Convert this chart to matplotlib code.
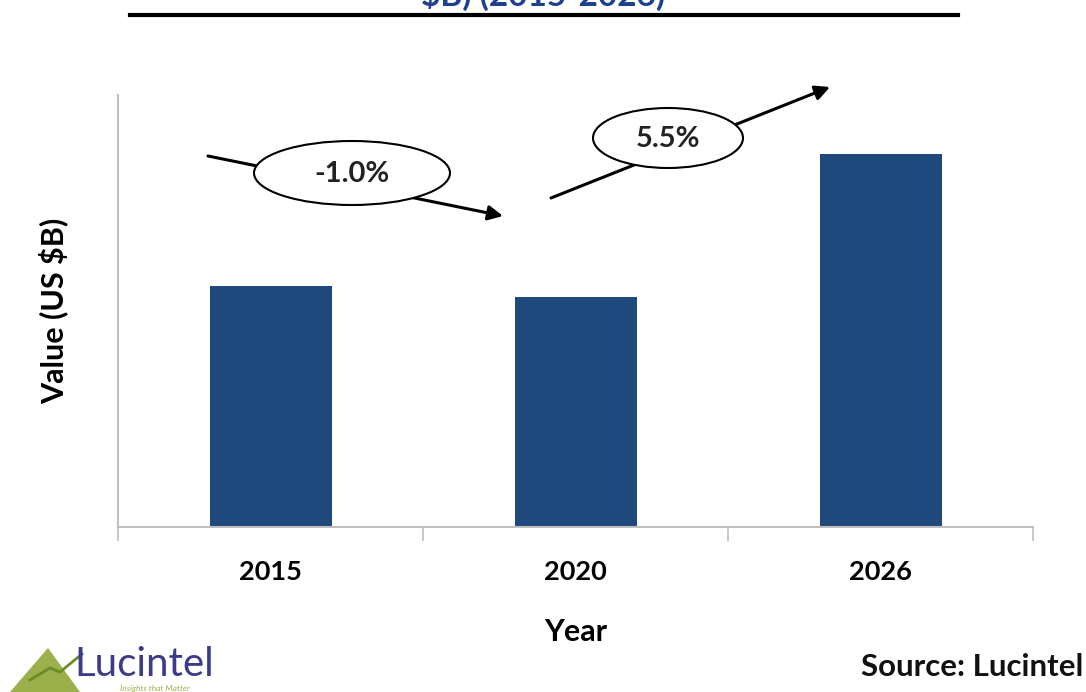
import matplotlib.pyplot as plt
from matplotlib.patches import Ellipse, Polygon

# ====== DATA ======
years = ["2015", "2020", "2026"]
values = [2.41, 2.30, 3.73]   # relative bar heights (US $B)
growth_labels = ["-1.0%", "5.5%"]
# ==================

W, H = 1086, 692
BAR_COLOR = "#1F497D"
AXIS_GREY = "#BFBFBF"
FONT = "Lato"

def fx(px):
    return px / W

def fy(py):
    return 1 - py / H

fig = plt.figure(figsize=(W / 100, H / 100), dpi=100)
ax = fig.add_axes([fx(118), fy(527), fx(1033) - fx(118), fy(95) - fy(527)])

x = range(len(years))
ax.bar(x, values, width=0.4, color=BAR_COLOR)
ax.set_xlim(-0.5, len(years) - 0.5)
ax.set_ylim(0, 4.32)

ax.set_xticks([i - 0.5 for i in range(len(years) + 1)])
ax.set_xticklabels([])
ax.set_xticks(list(x), minor=True)
ax.set_xticklabels(years, minor=True, fontsize=19.5, fontweight="bold", family=FONT)
ax.tick_params(axis="x", which="major", length=10, color=AXIS_GREY, width=1.2)
ax.tick_params(axis="x", which="minor", length=0, pad=24)
ax.set_yticks([])

for side in ["top", "right"]:
    ax.spines[side].set_visible(False)
for side in ["left", "bottom"]:
    ax.spines[side].set_color(AXIS_GREY)
    ax.spines[side].set_linewidth(1.5)

ax.set_xlabel("Year", fontsize=22, fontweight="bold", family=FONT, labelpad=24)
ax.set_ylabel("Value (US $B)", fontsize=22, fontweight="bold", family=FONT, labelpad=36)

# cut-off title and rule at the top
fig.text(0.5, fy(-5), "$B) (2015-2026)", ha="center", va="center",
         fontsize=24, fontweight="bold", color="#1F3F8F", family=FONT)
fig.add_artist(plt.Line2D([fx(130), fx(958)], [fy(15), fy(15)], color="black", lw=3))

# growth arrows with ellipse labels
arrows = [((208, 156), (503, 216)), ((551, 198), (830, 87))]
ellipses = [((352, 173), 196, 64), ((668, 138), 150, 60)]
for (start, end), (center, ew, eh), label in zip(arrows, ellipses, growth_labels):
    ax.annotate("", xy=(fx(end[0]), fy(end[1])), xytext=(fx(start[0]), fy(start[1])),
                xycoords="figure fraction", textcoords="figure fraction",
                arrowprops=dict(arrowstyle="-|>", color="black", lw=2.2,
                                mutation_scale=22, shrinkA=0, shrinkB=0))
    el = Ellipse((fx(center[0]), fy(center[1])), ew / W, eh / H,
                 transform=fig.transFigure, facecolor="white", edgecolor="black", lw=1.5)
    fig.add_artist(el)
    fig.text(fx(center[0]), fy(center[1] + 1), label, ha="center", va="center",
             fontsize=21, fontweight="bold", family=FONT, color="#222222")

# logo and source
tri = Polygon([(fx(10), fy(692)), (fx(48), fy(648)), (fx(80), fy(692))],
              closed=True, transform=fig.transFigure, facecolor="#9BB04A", edgecolor="none")
fig.add_artist(tri)
fig.add_artist(plt.Line2D([fx(30), fx(50), fx(60), fx(82)], [fy(680), fy(668), fy(672), fy(654)],
                          color="#6E8A2A", lw=2))
fig.text(fx(74), fy(665), "Lucintel", ha="left", va="center", fontsize=29,
         family=FONT, color="#3B3B8A")
fig.text(fx(120), fy(688), "Insights that Matter", ha="left", va="center", fontsize=6,
         style="italic", family=FONT, color="#9BB04A")
fig.text(fx(1083), fy(667), "Source: Lucintel", ha="right", va="center", fontsize=22.5,
         fontweight="bold", family=FONT, color="#111111")

fig.savefig("out.png", dpi=100)
